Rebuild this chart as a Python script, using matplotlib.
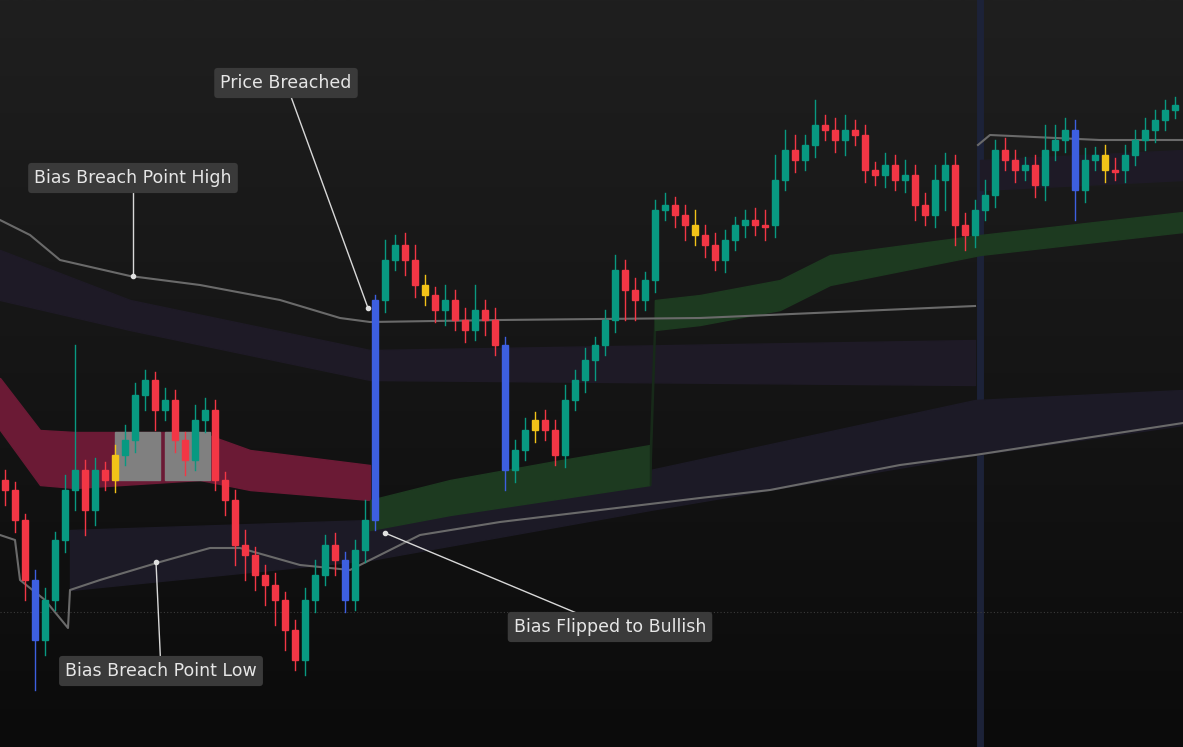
import numpy as np
import matplotlib.pyplot as plt
from matplotlib.patches import Rectangle

closes = [490,520,580,640,600,540,490,470,510,470,480,455,440,395,380,410,400,440,460,420,
          410,480,500,545,555,575,585,600,630,660,600,575,545,560,600,550,520,300,260,245,
          260,285,295,310,300,320,330,310,320,345,470,450,430,420,430,455,400,380,360,345,
          320,270,290,300,280,210,205,215,225,235,245,260,240,225,220,225,225,180,150,160,
          145,125,130,140,130,135,170,175,165,180,175,205,215,180,165,225,235,210,195,150,
          160,170,165,185,150,140,130,190,160,155,170,170,155,140,130,120,110,105]
wick_up = [10,8,6,10,12,8,15,125,10,12,8,10,15,12,10,8,12,10,8,15,
           12,10,8,10,15,8,10,12,8,10,12,15,10,12,8,10,20,5,20,10,
           12,15,10,8,15,10,12,25,10,12,8,10,12,8,10,10,15,10,12,8,
           10,15,10,12,8,10,12,8,10,15,10,12,10,8,10,12,15,25,20,15,
           10,25,10,12,15,10,10,8,12,10,15,10,12,15,12,10,12,10,15,10,
           12,10,8,10,25,15,12,10,12,8,10,12,10,10,12,10,10,8]
wick_dn = [15,12,20,50,15,10,12,20,25,15,10,12,10,12,15,20,10,12,15,10,
           12,10,15,20,25,15,20,25,20,10,15,12,10,15,12,10,12,10,12,10,
           15,12,10,12,15,10,12,10,15,10,20,12,10,12,10,10,12,10,12,20,
           10,12,30,20,10,12,10,12,15,10,12,10,12,10,12,10,15,12,10,12,
           10,12,10,12,15,10,12,10,12,10,12,15,10,12,30,20,15,12,10,12,
           10,12,10,12,15,10,12,30,12,10,12,10,12,10,10,12,10,8]
blue_idx = [3, 34, 37, 50, 107]
yellow_idx = [11, 42, 53, 69, 110]

red_x = [0, 40, 75, 200, 250, 370]
red_top = [378, 430, 432, 432, 450, 465]
red_bot = [430, 485, 488, 480, 490, 500]
grn1_x = [370, 450, 550, 650]
grn1_top = [500, 480, 462, 445]
grn1_bot = [530, 515, 500, 485]
grn2_x = [655, 700, 780, 830, 980, 1183]
grn2_top = [300, 295, 280, 255, 235, 212]
grn2_bot = [330, 325, 310, 285, 255, 232]
up_x = [0, 30, 60, 130, 200, 280, 340, 370, 500, 700, 975]
up_y = [220, 235, 260, 276, 285, 300, 318, 322, 320, 318, 306]
up2_x = [978, 990, 1100, 1183]
up2_y = [145, 135, 140, 140]
pb_x = [0, 130, 370, 975]
pb_top = [250, 300, 350, 340]
pb_bot = [300, 330, 380, 385]
pb2_x = [980, 1183]
pb2_top = [160, 150]
pb2_bot = [190, 180]
lb_x = [70, 370, 650, 975, 1183]
lb_top = [530, 520, 470, 400, 390]
lb_bot = [590, 560, 510, 455, 425]
lo_x = [0, 15, 20, 45, 68, 70, 100, 160, 210, 240, 300, 350, 380, 420, 500, 600, 700, 770, 900, 975, 1183]
lo_y = [535, 540, 580, 600, 628, 590, 580, 562, 548, 548, 565, 570, 555, 535, 522, 510, 498, 490, 465, 455, 423]

fig = plt.figure(figsize=(11.83, 7.47), dpi=100)
ax = fig.add_axes([0, 0, 1, 1])
ax.set_xlim(0, 1183); ax.set_ylim(747, 0); ax.axis('off')
grad = np.linspace(0, 1, 256).reshape(-1, 1)
from matplotlib.colors import LinearSegmentedColormap
cm = LinearSegmentedColormap.from_list('bg', ['#1f1f1f', '#0b0b0b'])
ax.imshow(grad, cmap=cm, extent=[0, 1183, 747, 0], aspect='auto', zorder=0)

ax.axvline(980, color='#1c2238', lw=5, zorder=1)
ax.axhline(612, color='#3a3a3a', lw=0.8, ls=(0, (1, 2)), zorder=1)

ax.fill_between(pb_x, pb_top, pb_bot, color='#1e1a26', zorder=1)
ax.fill_between(pb2_x, pb2_top, pb2_bot, color='#1e1a26', zorder=1)
ax.fill_between(lb_x, lb_top, lb_bot, color='#1c1a26', zorder=1)
ax.fill_between(red_x, red_top, red_bot, color='#6b1a35', zorder=2)
ax.add_patch(Rectangle((115, 432), 45, 48, color='#808080', zorder=2.5))
ax.add_patch(Rectangle((165, 432), 45, 48, color='#808080', zorder=2.5))
ax.fill_between(grn1_x, grn1_top, grn1_bot, color='#1d3a20', zorder=2)
ax.fill_between([650, 655], [445, 300], [485, 330], color='#172a19', zorder=2)
ax.fill_between(grn2_x, grn2_top, grn2_bot, color='#1d3a20', zorder=2)
ax.plot(up_x, up_y, color='#6a6a6a', lw=1.5, zorder=3)
ax.plot(up2_x, up2_y, color='#6a6a6a', lw=1.5, zorder=3)
ax.plot(lo_x, lo_y, color='#6a6a6a', lw=1.5, zorder=3)

opens = [closes[0] - 10] + closes[:-1]
for i, c in enumerate(closes):
    o = opens[i]; x = 5 + 10 * i
    if i in blue_idx: col = '#3d5fe0'
    elif i in yellow_idx: col = '#f2c318'
    elif c < o: col = '#089981'
    else: col = '#f23645'
    hi = min(o, c) - wick_up[i]; lo = max(o, c) + wick_dn[i]
    ax.plot([x, x], [hi, lo], color=col, lw=1, zorder=4)
    ax.add_patch(Rectangle((x - 3, min(o, c)), 6, max(abs(c - o), 2), color=col, zorder=5))

def note(text, bx, by, px, py):
    ax.plot([bx, px], [by, py], color='#d8d8d8', lw=1, zorder=6)
    ax.plot(px, py, 'o', color='#e0e0e0', ms=3, zorder=7)
    ax.text(bx, by, text, ha='center', va='center', color='#e6e6e6', fontsize=12.5, zorder=8,
            bbox=dict(boxstyle='round,pad=0.35,rounding_size=0.2', fc='#3a3a3a', ec='none'))

note('Price Breached', 286, 83, 368, 308)
note('Bias Breach Point High', 133, 178, 133, 276)
note('Bias Breach Point Low', 161, 671, 156, 562)
note('Bias Flipped to Bullish', 610, 627, 385, 533)
fig.savefig('out.png', dpi=100)
